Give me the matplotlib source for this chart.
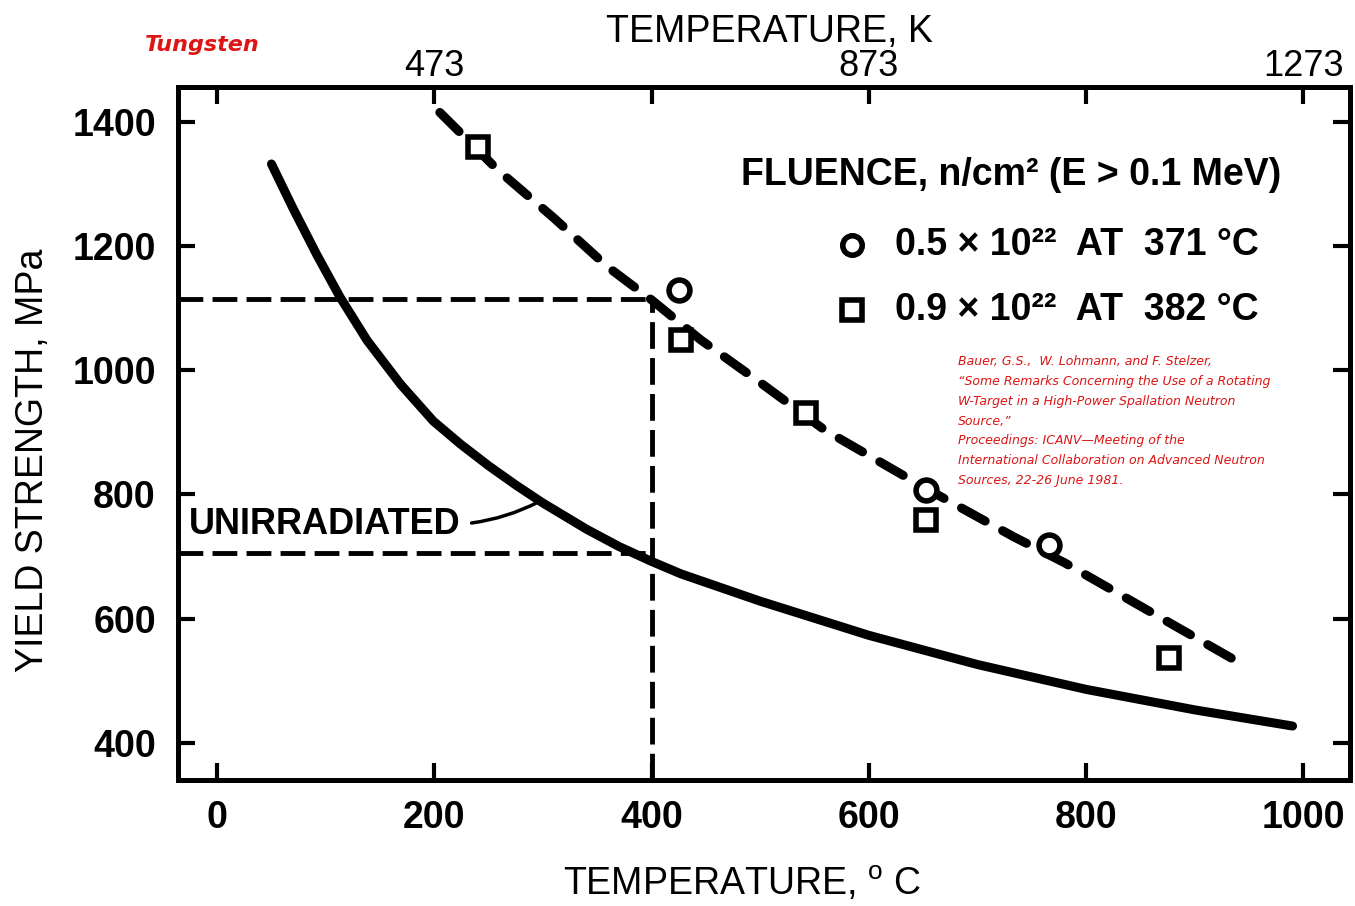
import matplotlib
matplotlib.use("Agg")

import matplotlib.pyplot as plt

# ---- data (deg C / MPa) ----
unirr_T = [50, 70, 92, 113, 138, 169, 199, 224, 250, 275, 300, 340, 370, 400, 427,
           500, 600, 700, 800, 900, 990]
unirr_Y = [1332, 1260, 1185, 1118, 1048, 977, 918, 881, 846, 815, 786, 744, 716, 692, 672,
           628, 573, 526, 486, 453, 427]

irr_T = [205, 258, 310, 359, 400, 445, 500, 559, 650, 733, 780, 860, 940]
irr_Y = [1415, 1323, 1245, 1167, 1113, 1049, 980, 904, 812, 732, 690, 610, 530]

sq_T = [240, 427, 542, 653, 876]          # 0.9e22 at 382 C
sq_Y = [1360, 1049, 931, 759, 537]
circ_T = [425, 653, 766]                  # 0.5e22 at 371 C
circ_Y = [1129, 807, 719]

guide_T = 400
guide_Y_irr = 1115
guide_Y_unirr = 705

x_ticks = [0, 200, 400, 600, 800, 1000]
y_ticks = [400, 600, 800, 1000, 1200, 1400]
kelvin_ticks = [273, 473, 673, 873, 1073, 1273]
kelvin_labels = ["", "473", "", "873", "", "1273"]

citation = [
    "Bauer, G.S.,  W. Lohmann, and F. Stelzer,",
    "\u201cSome Remarks Concerning the Use of a Rotating",
    "W-Target in a High-Power Spallation Neutron",
    "Source,\u201d",
    "Proceedings: ICANV\u2014Meeting of the",
    "International Collaboration on Advanced Neutron",
    "Sources, 22-26 June 1981.",
]

SANS = ["Liberation Sans", "DejaVu Sans"]
RED = "#dd1515"

plt.rcParams["mathtext.fontset"] = "custom"
plt.rcParams["mathtext.rm"] = "Liberation Sans"

fig = plt.figure(figsize=(13.55, 9.06), dpi=100)
ax = fig.add_axes([0.1314, 0.139, 0.865, 0.765])
ax.set_xlim(-36, 1043)
ax.set_ylim(340, 1456)

# construction lines at 400 C
ax.plot([-36, guide_T], [guide_Y_irr, guide_Y_irr], color="black", lw=3.5,
        dashes=(5.1, 1.9), zorder=2)
ax.plot([-36, guide_T], [guide_Y_unirr, guide_Y_unirr], color="black", lw=3.5,
        dashes=(5.1, 1.9), zorder=2)
ax.plot([guide_T, guide_T], [340, guide_Y_irr], color="black", lw=3.5,
        dashes=(5.5, 1.9), zorder=2)

# curves
ax.plot(unirr_T, unirr_Y, color="black", lw=6.5, solid_capstyle="round",
        solid_joinstyle="round", zorder=3)
ax.plot(irr_T, irr_Y, color="black", lw=6.5, dashes=(3.0, 2.2),
        dash_capstyle="round", dash_joinstyle="round", zorder=3)

# measured points
ax.plot(sq_T, sq_Y, "s", ms=15, mfc="white", mec="black", mew=4, zorder=4)
ax.plot(circ_T, circ_Y, "o", ms=15, mfc="white", mec="black", mew=4, zorder=4)

# frame and ticks
for sp in ax.spines.values():
    sp.set_linewidth(3.6)
ax.set_xticks(x_ticks)
ax.set_yticks(y_ticks)
ax.tick_params(axis="both", direction="in", length=12, width=3,
               top=False, right=True, labelsize=27)
ax.tick_params(axis="x", pad=14)
ax.tick_params(axis="y", pad=16)
for lab in ax.get_xticklabels() + ax.get_yticklabels():
    lab.set_family(SANS)
    lab.set_fontweight("bold")

top = ax.twiny()
top.set_xlim(ax.get_xlim())
top.set_xticks([k - 273 for k in kelvin_ticks])
top.set_xticklabels(kelvin_labels, family=SANS, fontsize=26)
top.tick_params(axis="x", direction="in", length=12, width=3, pad=2)

# axis titles
fig.text(0.568, 0.965, "TEMPERATURE, K", family=SANS, fontsize=27,
         ha="center", va="center")
fig.text(0.548, 0.025, "TEMPERATURE, $^{\\mathrm{o}}$ C", family=SANS, fontsize=27,
         ha="center", va="center")
fig.text(0.024, 0.492, "YIELD STRENGTH, MPa", family=SANS, fontsize=27,
         rotation=90, ha="center", va="center")

# in-plot legend
ax.text(482, 1315, "FLUENCE, n/cm\u00b2 (E > 0.1 MeV)", family=SANS,
        fontweight="bold", fontsize=27, ha="left", va="center")
ax.plot([584], [1202], "o", ms=14, mfc="white", mec="black", mew=4)
ax.plot([584], [1097], "s", ms=14, mfc="white", mec="black", mew=4)
ax.text(624, 1202, "0.5 \u00d7 10\u00b2\u00b2  AT  371 \u00b0C", family=SANS,
        fontweight="bold", fontsize=27, ha="left", va="center")
ax.text(624, 1097, "0.9 \u00d7 10\u00b2\u00b2  AT  382 \u00b0C", family=SANS,
        fontweight="bold", fontsize=27, ha="left", va="center")

ax.annotate("UNIRRADIATED", xy=(296, 788), xytext=(-26, 752), family=SANS,
            fontweight="bold", fontsize=26, ha="left", va="center",
            arrowprops=dict(arrowstyle="-", lw=2.5, relpos=(1, 0.5),
                            shrinkA=6, shrinkB=0,
                            connectionstyle="arc3,rad=0.1"))

# red annotations
fig.text(145 / 1355, 1 - 45 / 906, "Tungsten", color=RED, fontsize=16,
         fontweight="bold", style="italic", ha="left", va="center")
for i, line in enumerate(citation):
    fig.text(958 / 1355, 1 - (362 + 19.7 * i) / 906, line, color=RED,
             fontsize=9, style="italic", ha="left", va="center")

fig.savefig("out.png", dpi=100)
